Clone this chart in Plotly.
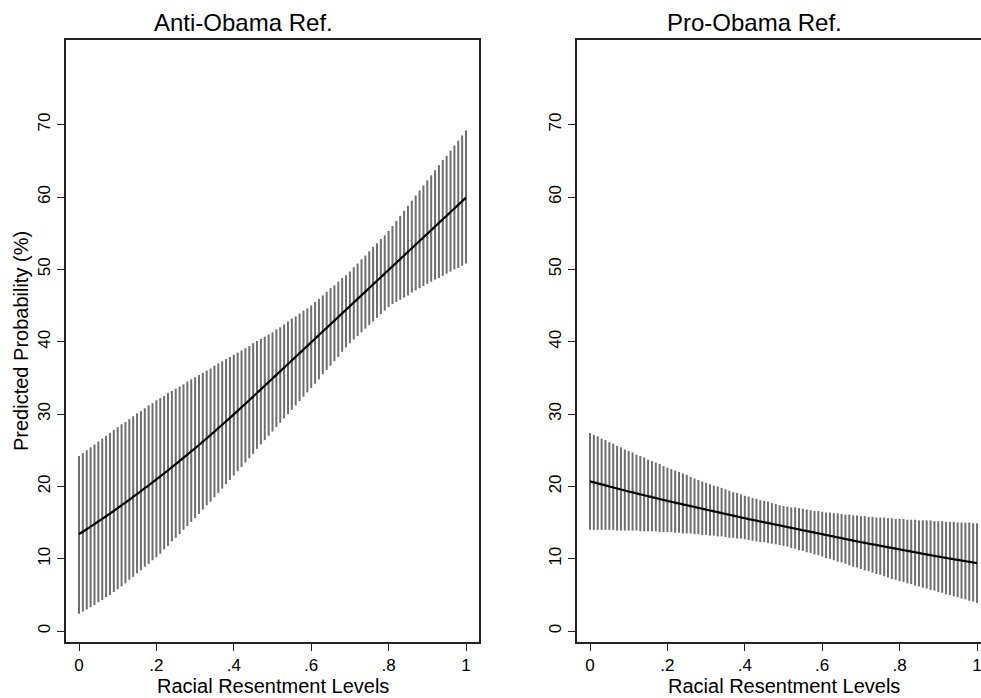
import plotly.graph_objects as go

# Racial resentment levels (x grid of the margins plot)
rr_levels = [
    0.00, 0.01, 0.02, 0.03, 0.04, 0.05, 0.06, 0.07, 0.08, 0.09,
    0.10, 0.11, 0.12, 0.13, 0.14, 0.15, 0.16, 0.17, 0.18, 0.19,
    0.20, 0.21, 0.22, 0.23, 0.24, 0.25, 0.26, 0.27, 0.28, 0.29,
    0.30, 0.31, 0.32, 0.33, 0.34, 0.35, 0.36, 0.37, 0.38, 0.39,
    0.40, 0.41, 0.42, 0.43, 0.44, 0.45, 0.46, 0.47, 0.48, 0.49,
    0.50, 0.51, 0.52, 0.53, 0.54, 0.55, 0.56, 0.57, 0.58, 0.59,
    0.60, 0.61, 0.62, 0.63, 0.64, 0.65, 0.66, 0.67, 0.68, 0.69,
    0.70, 0.71, 0.72, 0.73, 0.74, 0.75, 0.76, 0.77, 0.78, 0.79,
    0.80, 0.81, 0.82, 0.83, 0.84, 0.85, 0.86, 0.87, 0.88, 0.89,
    0.90, 0.91, 0.92, 0.93, 0.94, 0.95, 0.96, 0.97, 0.98, 0.99,
    1.00,
]

# Anti-Obama referent: predicted probability and 95% CI
anti_pred = [
    13.40, 13.74, 14.09, 14.44, 14.80, 15.16, 15.52, 15.88, 16.25, 16.62,
    17.00, 17.38, 17.77, 18.16, 18.55, 18.95, 19.35, 19.75, 20.15, 20.56,
    20.97, 21.39, 21.81, 22.23, 22.66, 23.09, 23.52, 23.96, 24.40, 24.84,
    25.28, 25.73, 26.19, 26.65, 27.11, 27.58, 28.05, 28.52, 29.00, 29.48,
    29.96, 30.45, 30.94, 31.43, 31.92, 32.42, 32.92, 33.42, 33.92, 34.42,
    34.92, 35.42, 35.92, 36.42, 36.92, 37.42, 37.92, 38.42, 38.92, 39.42,
    39.92, 40.42, 40.92, 41.42, 41.92, 42.42, 42.92, 43.42, 43.92, 44.42,
    44.92, 45.42, 45.92, 46.42, 46.92, 47.42, 47.92, 48.42, 48.92, 49.42,
    49.92, 50.42, 50.92, 51.42, 51.92, 52.42, 52.92, 53.42, 53.92, 54.42,
    54.92, 55.42, 55.92, 56.42, 56.92, 57.42, 57.92, 58.42, 58.92, 59.42,
    59.92,
]
anti_upper = [
    24.2, 24.6, 25.0, 25.4, 25.8, 26.2, 26.6, 27.0, 27.4, 27.8,
    28.2, 28.6, 28.9, 29.3, 29.7, 30.1, 30.4, 30.8, 31.2, 31.5,
    31.9, 32.2, 32.5, 32.9, 33.2, 33.5, 33.8, 34.1, 34.5, 34.8,
    35.1, 35.4, 35.7, 36.0, 36.3, 36.7, 37.0, 37.3, 37.6, 37.9,
    38.2, 38.5, 38.8, 39.1, 39.4, 39.8, 40.1, 40.4, 40.7, 41.0,
    41.3, 41.7, 42.0, 42.4, 42.8, 43.2, 43.5, 43.9, 44.3, 44.6,
    45.0, 45.5, 45.9, 46.4, 46.9, 47.4, 47.8, 48.3, 48.8, 49.2,
    49.7, 50.3, 50.8, 51.4, 51.9, 52.5, 53.1, 53.6, 54.2, 54.7,
    55.3, 56.0, 56.7, 57.4, 58.1, 58.8, 59.5, 60.2, 60.9, 61.6,
    62.3, 63.0, 63.7, 64.4, 65.1, 65.7, 66.4, 67.1, 67.8, 68.5,
    69.2,
]
anti_lower = [
    2.4, 2.7, 3.0, 3.3, 3.6, 4.0, 4.3, 4.7, 5.0, 5.4,
    5.8, 6.2, 6.6, 7.1, 7.5, 8.0, 8.4, 8.9, 9.3, 9.8,
    10.2, 10.7, 11.3, 11.8, 12.4, 12.9, 13.4, 14.0, 14.5, 15.1,
    15.6, 16.2, 16.8, 17.4, 17.9, 18.5, 19.1, 19.7, 20.3, 20.9,
    21.5, 22.1, 22.7, 23.3, 23.9, 24.5, 25.2, 25.8, 26.4, 27.0,
    27.6, 28.2, 28.8, 29.4, 30.0, 30.6, 31.2, 31.8, 32.4, 33.0,
    33.6, 34.2, 34.8, 35.5, 36.1, 36.7, 37.3, 37.9, 38.6, 39.2,
    39.8, 40.3, 40.8, 41.3, 41.8, 42.3, 42.8, 43.3, 43.8, 44.3,
    44.8, 45.2, 45.5, 45.8, 46.1, 46.4, 46.8, 47.1, 47.4, 47.7,
    48.0, 48.3, 48.6, 48.8, 49.1, 49.4, 49.7, 50.0, 50.2, 50.5,
    50.8,
]

# Pro-Obama referent: predicted probability and 95% CI
pro_pred = [
    20.70, 20.56, 20.42, 20.28, 20.14, 20.00, 19.86, 19.72, 19.58, 19.44,
    19.30, 19.17, 19.04, 18.91, 18.78, 18.65, 18.52, 18.39, 18.26, 18.13,
    18.00, 17.88, 17.76, 17.64, 17.52, 17.40, 17.28, 17.16, 17.04, 16.92,
    16.80, 16.68, 16.56, 16.44, 16.32, 16.20, 16.08, 15.96, 15.84, 15.72,
    15.60, 15.49, 15.38, 15.27, 15.16, 15.05, 14.94, 14.83, 14.72, 14.61,
    14.50, 14.39, 14.28, 14.17, 14.06, 13.95, 13.84, 13.73, 13.62, 13.51,
    13.40, 13.29, 13.18, 13.07, 12.96, 12.85, 12.74, 12.63, 12.52, 12.41,
    12.30, 12.20, 12.10, 12.00, 11.90, 11.80, 11.70, 11.60, 11.50, 11.40,
    11.30, 11.20, 11.10, 11.00, 10.90, 10.80, 10.70, 10.60, 10.50, 10.40,
    10.30, 10.21, 10.12, 10.03, 9.94, 9.85, 9.76, 9.67, 9.58, 9.49,
    9.40,
]
pro_upper = [
    27.4, 27.1, 26.9, 26.6, 26.4, 26.1, 25.9, 25.6, 25.4, 25.1,
    24.9, 24.7, 24.4, 24.2, 24.0, 23.7, 23.5, 23.3, 23.1, 22.8,
    22.6, 22.4, 22.2, 22.0, 21.8, 21.6, 21.3, 21.1, 20.9, 20.7,
    20.5, 20.3, 20.1, 20.0, 19.8, 19.6, 19.4, 19.2, 19.1, 18.9,
    18.7, 18.6, 18.4, 18.3, 18.1, 18.0, 17.9, 17.7, 17.6, 17.4,
    17.3, 17.2, 17.1, 17.1, 17.0, 16.9, 16.8, 16.7, 16.6, 16.6,
    16.5, 16.4, 16.4, 16.3, 16.3, 16.2, 16.1, 16.1, 16.0, 16.0,
    15.9, 15.9, 15.8, 15.8, 15.7, 15.7, 15.7, 15.6, 15.6, 15.5,
    15.5, 15.5, 15.4, 15.4, 15.4, 15.3, 15.3, 15.3, 15.3, 15.2,
    15.2, 15.2, 15.1, 15.1, 15.1, 15.0, 15.0, 15.0, 15.0, 14.9,
    14.9,
]
pro_lower = [
    14.0, 14.0, 14.0, 14.0, 14.0, 14.0, 14.0, 13.9, 13.9, 13.9,
    13.9, 13.9, 13.9, 13.8, 13.8, 13.8, 13.8, 13.8, 13.7, 13.7,
    13.7, 13.7, 13.6, 13.6, 13.5, 13.5, 13.5, 13.4, 13.4, 13.3,
    13.3, 13.2, 13.2, 13.1, 13.1, 13.0, 12.9, 12.9, 12.8, 12.8,
    12.7, 12.6, 12.5, 12.4, 12.3, 12.3, 12.2, 12.1, 12.0, 11.9,
    11.8, 11.7, 11.5, 11.4, 11.2, 11.1, 10.9, 10.8, 10.6, 10.5,
    10.3, 10.1, 10.0, 9.8, 9.6, 9.5, 9.3, 9.1, 8.9, 8.8,
    8.6, 8.4, 8.3, 8.1, 7.9, 7.8, 7.6, 7.4, 7.2, 7.1,
    6.9, 6.8, 6.6, 6.5, 6.3, 6.2, 6.0, 5.9, 5.7, 5.6,
    5.4, 5.3, 5.1, 5.0, 4.8, 4.7, 4.5, 4.4, 4.2, 4.1,
    3.9,
]

panel_titles = ["Anti-Obama Ref.", "Pro-Obama Ref."]
x_title = "Racial Resentment Levels"
y_title = "Predicted Probability (%)"
x_tickvals = [0, 0.2, 0.4, 0.6, 0.8, 1]
x_ticktext = ["0", ".2", ".4", ".6", ".8", "1"]
y_tickvals = [0, 10, 20, 30, 40, 50, 60, 70]
y_ticktext = ["0", "10", "20", "30", "40", "50", "60", "70"]

W, H = 981, 698
FONT = "Liberation Sans, Arial, Helvetica, sans-serif"
SPIKE_COLOR = "#6e6e6e"
AXIS_COLOR = "#222222"


def px_x(p):
    return p / W


def px_y(p):
    return (H - p) / H


def spike_xy(xs, lo, hi):
    xx, yy = [], []
    for x, l, h in zip(xs, lo, hi):
        xx += [x, x, None]
        yy += [l, h, None]
    return xx, yy


fig = go.Figure()

panels = [
    ("x", "y", anti_pred, anti_lower, anti_upper),
    ("x2", "y2", pro_pred, pro_lower, pro_upper),
]
for xa, ya, pred, lo, hi in panels:
    sx, sy = spike_xy(rr_levels, lo, hi)
    fig.add_trace(go.Scatter(
        x=sx, y=sy, mode="lines", xaxis=xa, yaxis=ya,
        line=dict(color=SPIKE_COLOR, width=2), hoverinfo="skip",
        showlegend=False,
    ))
    fig.add_trace(go.Scatter(
        x=rr_levels, y=pred, mode="lines", xaxis=xa, yaxis=ya,
        line=dict(color="black", width=2.2, shape="spline", smoothing=0.6),
        showlegend=False,
    ))

# reference pixel geometry
left_box = (66, 479)
right_box = (577, 981)
top_px, bot_px = 40, 642

xrange_left = [-0.0336, 1.0336]
xrange_right = [-0.0336, 1.0103]
yrange = [-1.5, 81.7]

common_x = dict(
    tickvals=x_tickvals, ticktext=x_ticktext, ticks="outside", ticklen=7,
    tickwidth=1.4, tickcolor=AXIS_COLOR, showline=True, linecolor=AXIS_COLOR,
    linewidth=1.6, mirror=True, showgrid=False, zeroline=False,
    tickfont=dict(family=FONT, size=17, color="black"),
    ticklabelstandoff=0, ticklabeloverflow="allow", fixedrange=True,
)
common_y = dict(
    tickvals=y_tickvals, ticktext=y_ticktext, ticks="outside", ticklen=7,
    tickwidth=1.4, tickcolor=AXIS_COLOR, showline=True, linecolor=AXIS_COLOR,
    linewidth=1.6, showgrid=False, zeroline=False, tickangle=-90,
    tickfont=dict(family=FONT, size=17, color="black"), range=yrange,
    ticklabelstandoff=0, fixedrange=True,
    domain=[px_y(bot_px), px_y(top_px)],
)

fig.update_layout(
    width=W, height=H,
    margin=dict(l=0, r=0, t=0, b=0),
    paper_bgcolor="white", plot_bgcolor="white",
    xaxis=dict(common_x, domain=[px_x(left_box[0]), px_x(left_box[1])],
               range=xrange_left, anchor="y"),
    yaxis=dict(common_y, mirror=True, anchor="x"),
    xaxis2=dict(common_x, domain=[px_x(right_box[0]), 1.0],
                range=xrange_right, anchor="y2"),
    yaxis2=dict(common_y, mirror=False, anchor="x2"),
    showlegend=False,
)

# panel titles
title_centers = [243.5, 754]
for t, cx in zip(panel_titles, title_centers):
    fig.add_annotation(
        text=t, x=px_x(cx), y=px_y(22), xref="paper", yref="paper",
        xanchor="center", yanchor="middle", showarrow=False,
        font=dict(family=FONT, size=24, color="black"),
    )

# x-axis titles
for cx in [272.5, 783.5]:
    fig.add_annotation(
        text=x_title, x=px_x(cx), y=px_y(686), xref="paper", yref="paper",
        xanchor="center", yanchor="middle", showarrow=False,
        font=dict(family=FONT, size=20, color="black"),
    )

# y-axis title (left panel only)
fig.add_annotation(
    text=y_title, x=px_x(21), y=px_y(341), xref="paper", yref="paper",
    xanchor="center", yanchor="middle", showarrow=False, textangle=-90,
    font=dict(family=FONT, size=20, color="black"),
)

# remove the browser's default 8px body margin so the 981x698 figure fills
# the window exactly (no scrollbars), and hide the mode bar
fig.write_html(
    "out.html",
    config={"displayModeBar": False},
    post_script="document.body.style.margin='0px';"
                "document.body.style.overflow='hidden';",
)
